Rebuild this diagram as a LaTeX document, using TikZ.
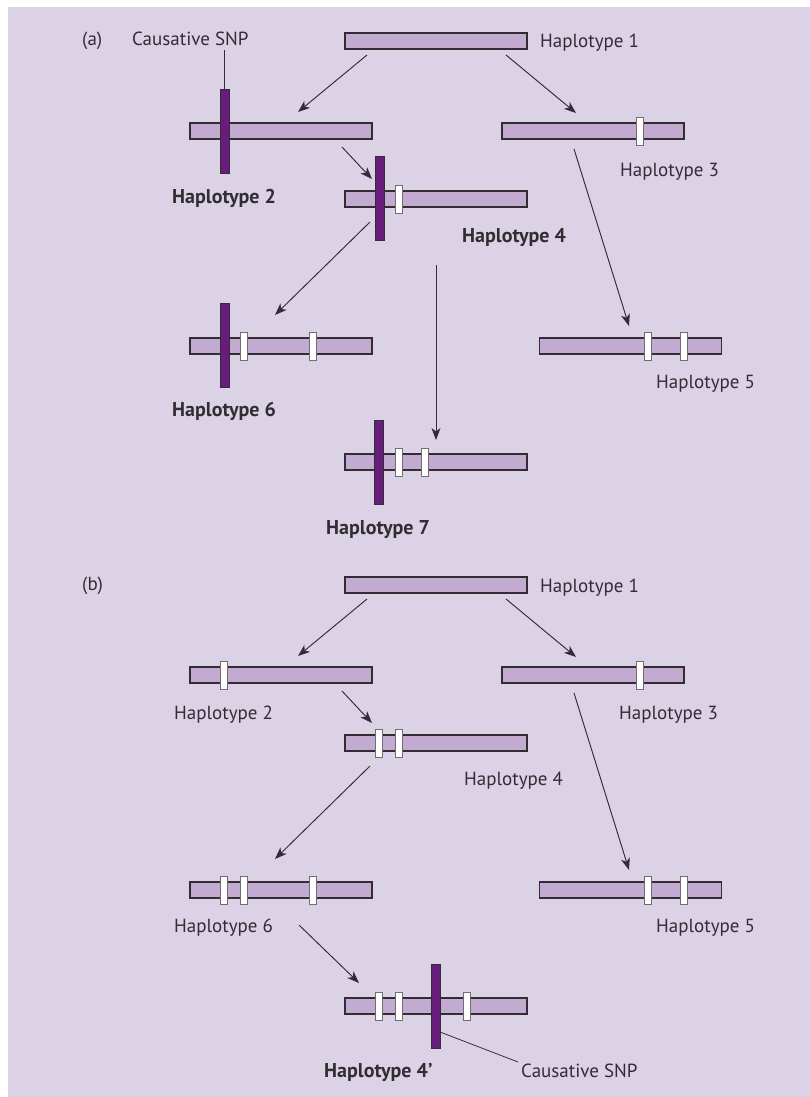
\documentclass[tikz,border=0pt]{standalone}
\usepackage{fontspec}
\setmainfont{PT Sans}
\usetikzlibrary{arrows.meta}
\definecolor{bgcol}{RGB}{220,210,230}
\definecolor{barcol}{RGB}{195,170,208}
\definecolor{snpcol}{RGB}{104,28,124}
\definecolor{inkcol}{RGB}{50,45,50}

\begin{document}
\begin{tikzpicture}[x=1pt,y=-1pt,
  bar/.style={draw=inkcol, line width=1.1pt, fill=barcol, minimum width=182pt,
    minimum height=16pt, inner sep=0pt, outer sep=0pt},
  mk/.style={draw=inkcol!70, line width=0.9pt, fill=white, minimum width=7pt,
    minimum height=28pt, inner sep=0pt, outer sep=0pt},
  snp/.style={draw=inkcol, line width=0.9pt, fill=snpcol, minimum width=9pt,
    minimum height=84pt, inner sep=0pt, outer sep=0pt},
  lbl/.style={anchor=base west, inner sep=0pt, text=inkcol,
    font=\fontsize{19}{22}\selectfont},
  blbl/.style={lbl, font=\fontsize{20}{23}\selectfont\bfseries},
  arr/.style={draw=inkcol, line width=0.95pt,
    -{Stealth[length=12pt,width=9pt,inset=3.5pt]}},
  lead/.style={draw=inkcol, line width=0.8pt}]

\useasboundingbox (0,0) rectangle (810,1097);
\fill[white] (0,0) rectangle (810,1097);
\fill[bgcol] (8,7) rectangle (810,1097);

% ---------------- panel (a) ----------------
\node[lbl] (alab) at (82,46) {(a)};
\node[lbl] (acsl) at (132,46) {Causative SNP};

\node[bar] (a1) at (436,41) {};
\node[lbl] (a1l) at (540,48) {Haplotype 1};

\node[bar] (a2) at (281,131) {};
\node[snp] (a2s) at (224.5,131) {};
\node[blbl] (a2l) at (172,203) {Haplotype 2};

\node[bar] (a3) at (593,131) {};
\node[mk] (a3m1) at (639.5,131) {};
\node[lbl] (a3l) at (620,176) {Haplotype 3};

\node[bar] (a4) at (436,199) {};
\node[mk] (a4m1) at (398.5,199) {};
\node[snp] (a4s) at (379.5,198) {};
\node[blbl] (a4l) at (462,242) {Haplotype 4};

\node[bar] (a6) at (281,346) {};
\node[mk] (a6m1) at (243.5,346) {};
\node[mk] (a6m2) at (312.5,346) {};
\node[snp] (a6s) at (224.5,345.5) {};
\node[blbl] (a6l) at (172,416) {Haplotype 6};

\node[bar] (a5) at (630.5,346) {};
\node[mk] (a5m1) at (647.5,346) {};
\node[mk] (a5m2) at (683.5,346) {};
\node[lbl] (a5l) at (656,388) {Haplotype 5};

\node[bar] (a7) at (436,462) {};
\node[mk] (a7m1) at (398.5,462) {};
\node[mk] (a7m2) at (424.5,462) {};
\node[snp] (a7s) at (379,462) {};
\node[blbl] (a7l) at (326,534) {Haplotype 7};

% connector ends
\coordinate (a12s) at (367,55);  \coordinate (a12e) at (298,112);
\coordinate (a13s) at (506,55);  \coordinate (a13e) at (576,113);
\coordinate (a24s) at (342,147); \coordinate (a24e) at (372,179);
\coordinate (a46s) at (370,222); \coordinate (a46e) at (275,315);
\coordinate (a35s) at (574,149); \coordinate (a35e) at (629,326);
\coordinate (a47s) at (436,265); \coordinate (a47e) at (436,440);
\coordinate (acsp) at (224.5,50);

\draw[arr] (a12s) -- (a12e);
\draw[arr] (a13s) -- (a13e);
\draw[arr] (a24s) -- (a24e);
\draw[arr] (a46s) -- (a46e);
\draw[arr] (a35s) -- (a35e);
\draw[arr] (a47s) -- (a47e);
\draw[lead] (acsp) -- (a2s.north);

% ---------------- panel (b) ----------------
\node[lbl] (blab) at (82,590) {(b)};

\node[bar] (b1) at (436,585) {};
\node[lbl] (b1l) at (540,592) {Haplotype 1};

\node[bar] (b2) at (281,675) {};
\node[mk] (b2m1) at (223.5,675) {};
\node[lbl] (b2l) at (174,719) {Haplotype 2};

\node[bar] (b3) at (593,675) {};
\node[mk] (b3m1) at (639.5,675) {};
\node[lbl] (b3l) at (619,719) {Haplotype 3};

\node[bar] (b4) at (436,743) {};
\node[mk] (b4m1) at (378.5,743) {};
\node[mk] (b4m2) at (398.5,743) {};
\node[lbl] (b4l) at (464,785) {Haplotype 4};

\node[bar] (b6) at (281,890) {};
\node[mk] (b6m1) at (223.5,890) {};
\node[mk] (b6m2) at (243.5,890) {};
\node[mk] (b6m3) at (312.5,890) {};
\node[lbl] (b6l) at (174,932) {Haplotype 6};

\node[bar] (b5) at (630.5,890) {};
\node[mk] (b5m1) at (647.5,890) {};
\node[mk] (b5m2) at (683.5,890) {};
\node[lbl] (b5l) at (656,932) {Haplotype 5};

\node[bar] (b7) at (436,1006) {};
\node[mk] (b7m1) at (378.5,1006) {};
\node[mk] (b7m2) at (398.5,1006) {};
\node[mk] (b7m3) at (467,1006) {};
\node[snp] (b7s) at (436,1006) {};
\node[blbl] (b7l) at (324,1077) {Haplotype 4’};
\node[lbl] (bcsl) at (521,1077) {Causative SNP};

\coordinate (b12s) at (367,599);  \coordinate (b12e) at (298,656);
\coordinate (b13s) at (506,599);  \coordinate (b13e) at (576,657);
\coordinate (b24s) at (342,691);  \coordinate (b24e) at (372,723);
\coordinate (b46s) at (370,766);  \coordinate (b46e) at (275,859);
\coordinate (b35s) at (574,693);  \coordinate (b35e) at (629,870);
\coordinate (b67s) at (299,925);  \coordinate (b67e) at (359,983);
\coordinate (bsnp) at (440,1032); \coordinate (bcsp) at (518,1062);

\draw[arr] (b12s) -- (b12e);
\draw[arr] (b13s) -- (b13e);
\draw[arr] (b24s) -- (b24e);
\draw[arr] (b46s) -- (b46e);
\draw[arr] (b35s) -- (b35e);
\draw[arr] (b67s) -- (b67e);
\draw[lead] (bsnp) -- (bcsp);
\end{tikzpicture}
\end{document}
